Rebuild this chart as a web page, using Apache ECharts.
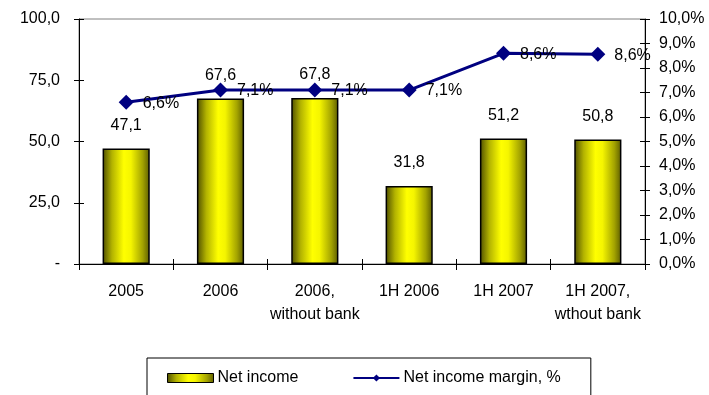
<!DOCTYPE html>
<html>
<head>
<meta charset="utf-8">
<script src="https://cdn.jsdelivr.net/npm/echarts@6/dist/echarts.min.js"></script>
<style>
  html, body { margin: 0; padding: 0; background: #fff; }
  #chart { width: 709px; height: 395px; }
</style>
</head>
<body>
<div id="chart"></div>
<script>
// Periods shown on the category axis
const categories = ['2005', '2006', '2006,\nwithout bank', '1H 2006', '1H 2007', '1H 2007,\nwthout bank'];
// Net income (left axis)
const netIncome = [47.1, 67.6, 67.8, 31.8, 51.2, 50.8];
// Net income margin, % (right axis)
const netMargin = [6.6, 7.1, 7.1, 7.1, 8.6, 8.56];
// Axis ranges
const incomeMax = 100, incomeStep = 25;
const marginMax = 10, marginStep = 1;

const FONT = 'Liberation Sans, Arial, sans-serif';
const FS = 16;
const comma = (v, d) => v.toFixed(d).replace('.', ',');

const barFill = {
  type: 'linear', x: 0, y: 0, x2: 1, y2: 0,
  colorStops: [
    { offset: 0, color: '#4d4d00' },
    { offset: 0.2, color: '#b3b300' },
    { offset: 0.45, color: '#ffff00' },
    { offset: 0.6, color: '#f5f500' },
    { offset: 0.85, color: '#a3a300' },
    { offset: 1, color: '#5c5c00' }
  ]
};

const chart = echarts.init(document.getElementById('chart'), null, { renderer: 'canvas' });
chart.setOption({
  animation: false,
  backgroundColor: '#ffffff',
  textStyle: { fontFamily: FONT, color: '#000' },
  grid: {
    left: 79, right: 64, top: 19, bottom: 131,
    show: true, borderColor: '#808080', borderWidth: 1, backgroundColor: 'transparent'
  },
  legend: {
    left: 147, top: 358,
    padding: [12, 30, 30, 20],
    borderColor: '#000', borderWidth: 1,
    itemWidth: 46, itemHeight: 9, itemGap: 54,
    textStyle: { fontFamily: FONT, fontSize: FS, color: '#000', padding: [0, 0, 0, -1] },
    data: [
      { name: 'Net income', icon: 'rect', itemStyle: { borderColor: '#000', borderWidth: 1 } },
      { name: 'Net income margin, %' }
    ]
  },
  xAxis: [
    {
      type: 'category',
      data: categories,
      axisLine: { lineStyle: { color: '#000', width: 1 } },
      axisTick: { show: true, length: 6, lineStyle: { color: '#000' } },
      axisLabel: { fontFamily: FONT, fontSize: FS, color: '#000', margin: 16, lineHeight: 23, interval: 0 }
    },
    {
      // upper halves of the category tick marks
      type: 'category',
      data: categories,
      position: 'bottom',
      axisLine: { show: false },
      axisTick: { show: true, inside: true, length: 5, lineStyle: { color: '#000' } },
      axisLabel: { show: false }
    }
  ],
  yAxis: [
    {
      type: 'value', min: 0, max: incomeMax, interval: incomeStep,
      axisLine: { show: true, lineStyle: { color: '#000' } },
      axisTick: { show: true, length: 5, lineStyle: { color: '#000' } },
      splitLine: { show: false },
      axisLabel: {
        fontFamily: FONT, fontSize: FS, color: '#000', margin: 19,
        formatter: v => v === 0 ? '-' : comma(v, 1)
      }
    },
    {
      type: 'value', min: 0, max: marginMax, interval: marginStep, position: 'right',
      axisLine: { show: true, lineStyle: { color: '#000' } },
      axisTick: { show: true, length: 5, lineStyle: { color: '#000' } },
      splitLine: { show: false },
      axisLabel: {
        fontFamily: FONT, fontSize: FS, color: '#000', margin: 14,
        formatter: v => comma(v, 1) + '%'
      }
    },
    {
      // inner halves of the left tick marks
      type: 'value', min: 0, max: incomeMax, interval: incomeStep, position: 'left',
      axisLine: { show: false },
      axisTick: { show: true, inside: true, length: 5, lineStyle: { color: '#000' } },
      axisLabel: { show: false }, splitLine: { show: false }
    },
    {
      // inner halves of the right tick marks
      type: 'value', min: 0, max: marginMax, interval: marginStep, position: 'right',
      axisLine: { show: false },
      axisTick: { show: true, inside: true, length: 5, lineStyle: { color: '#000' } },
      axisLabel: { show: false }, splitLine: { show: false }
    }
  ],
  series: [
    {
      name: 'Net income',
      type: 'bar',
      yAxisIndex: 0,
      data: netIncome,
      barWidth: '50%',
      itemStyle: { color: barFill, borderColor: '#000', borderWidth: 1.5 },
      label: {
        show: true, position: 'top', distance: 15,
        fontFamily: FONT, fontSize: FS, color: '#000',
        formatter: p => comma(p.value, 1)
      },
      z: 2
    },
    {
      name: 'Net income margin, %',
      type: 'line',
      yAxisIndex: 1,
      data: netMargin,
      symbol: 'diamond',
      symbolSize: 15,
      lineStyle: { color: '#000080', width: 3 },
      itemStyle: { color: '#000080' },
      label: {
        show: true, position: 'right', distance: 9, offset: [0, 1],
        fontFamily: FONT, fontSize: FS, color: '#000',
        formatter: p => comma(p.value, 1) + '%'
      },
      z: 3
    }
  ]
});
</script>
</body>
</html>
